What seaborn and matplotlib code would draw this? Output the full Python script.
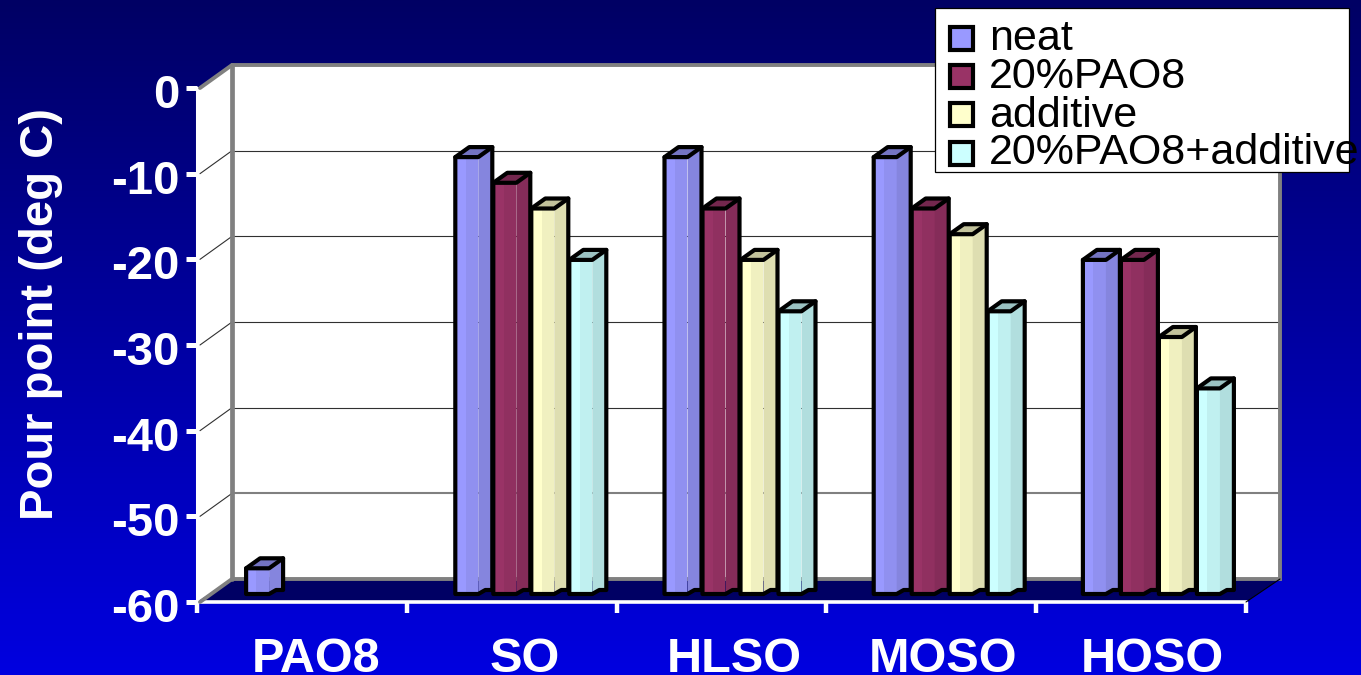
import numpy as np
import pandas as pd
import matplotlib
matplotlib.use("Agg")
import matplotlib.pyplot as plt
from matplotlib.colors import to_rgb, LinearSegmentedColormap
from matplotlib.patches import Polygon, Rectangle
from matplotlib.transforms import Affine2D
import seaborn as sns

# Pour point of each base oil, deg C
blends = ["PAO8", "SO", "HLSO", "MOSO", "HOSO"]
series = ["neat", "20%PAO8", "additive", "20%PAO8+additive"]
neat = [-57, -9, -9, -9, -21]
pao8_20 = [np.nan, -12, -15, -15, -21]
additive = [np.nan, -15, -21, -18, -30]
pao8_additive = [np.nan, -21, -27, -27, -36]
y_ticks = [0, -10, -20, -30, -40, -50, -60]
colors = ["#9999FF", "#993366", "#FFFFCC", "#CCFFFF"]

W, H = 1361, 675
FLOOR = -60

sns.set_theme(style="white")
plt.rcParams["font.family"] = ["Liberation Sans", "DejaVu Sans"]
plt.rcParams["axes.unicode_minus"] = False

fig = plt.figure(figsize=(W / 100, H / 100), dpi=100)


def axes_at(left, top, right, bottom):
    return fig.add_axes([left / W, 1 - bottom / H, (right - left) / W, (bottom - top) / H])


# Top-to-bottom blue backdrop
bg = fig.add_axes([0, 0, 1, 1], zorder=0)
bg.axis("off")
ramp = LinearSegmentedColormap.from_list("ramp", ["#000064", "#0000E0"])
bg.imshow(np.linspace(0, 1, 256)[:, None], cmap=ramp, aspect="auto", extent=[0, 1, 0, 1])

# Front plane of the 3-D box carries the ticks; walls are offset behind it
ax = axes_at(197, 88, 1246, 602)
ax.set_zorder(1)
ax.patch.set_visible(False)
ax.set_xlim(-0.5, 4.5)
ax.set_ylim(-60, 0)
px_x = 5 / 1049
px_y = 60 / 514
wall_dx = 35 * px_x
wall_dy = 23 * px_y
x0, x1 = -0.5, 4.5
x2, x3 = x0 + wall_dx, x1 + 34 * px_x
xc = x0 + 3 * px_x
grey = "#808080"

ax.add_patch(Polygon([(x2, -60 + wall_dy), (x3, -60 + wall_dy), (x3, wall_dy), (x2, wall_dy)],
                     fc="white", ec="none", clip_on=False, zorder=1))
ax.add_patch(Polygon([(x0, -60), (x2, -60 + wall_dy), (x2, wall_dy), (xc, 0), (x0, 0)],
                     fc="white", ec="none", clip_on=False, zorder=1))
ax.add_patch(Polygon([(xc, -60), (x1, -60), (x3, -60 + wall_dy), (x2, -60 + wall_dy)],
                     fc="#000064", ec="none", clip_on=False, zorder=1))

for v in y_ticks[1:-1]:
    line_col, line_w = (grey, 1.5) if v == -50 else ("#303030", 0.8)
    ax.plot([x2, x3], [v + wall_dy, v + wall_dy], color=line_col, lw=line_w, clip_on=False, zorder=2)
    ax.plot([xc, x2], [v, v + wall_dy], color="#303030", lw=0.8, clip_on=False, zorder=2)

ax.plot([xc, x2, x3, x3, x2, xc],
        [0, wall_dy, wall_dy, -60 + wall_dy, -60 + wall_dy, -60],
        color=grey, lw=2.8, clip_on=False, zorder=3, solid_joinstyle="miter")
ax.plot([x2, x2], [wall_dy, -60 + wall_dy], color=grey, lw=3.4, clip_on=False, zorder=3)
ax.plot([x1, x3], [-60, -60 + wall_dy], color="black", lw=0.8, clip_on=False, zorder=3)

for side in ["top", "right"]:
    ax.spines[side].set_visible(False)
ax.spines["bottom"].set_color("white")
ax.spines["bottom"].set_linewidth(2.6)
ax.spines["left"].set_color("white")
ax.spines["left"].set_linewidth(2.2)
ax.set_xticks(np.arange(-0.5, 5, 1))
ax.set_xticklabels([])
ax.set_yticks(y_ticks)
ax.tick_params(axis="x", colors="white", length=8, width=3.2, direction="out", bottom=True)
ax.tick_params(axis="y", colors="white", length=8, width=3.6, direction="out", left=True,
               pad=4.3, labelsize=34)
for label in ax.get_yticklabels():
    label.set_fontweight("bold")
    label.set_transform(label.get_transform() + Affine2D().translate(0, -3))
ax.set_ylabel("Pour point (deg C)", color="white", fontsize=34, fontweight="bold")
ax.yaxis.set_label_coords((63 - 197) / 1049, (602 - 314.5) / 514)

# Bars stand on a plane set partway back into the box
bar_ax = axes_at(210, 80, 1256, 594)
bar_ax.set_zorder(2)
bar_ax.patch.set_visible(False)

values = pd.DataFrame({"neat": neat, "20%PAO8": pao8_20, "additive": additive,
                       "20%PAO8+additive": pao8_additive}, index=blends)
long = (values.rename_axis("blend").reset_index()
        .melt(id_vars="blend", var_name="series", value_name="pour").dropna())
long["rise"] = long["pour"] - FLOOR

sns.barplot(data=long, x="blend", y="rise", hue="series", order=blends, hue_order=series,
            palette=colors, saturation=1, width=0.7266, gap=0.395, bottom=FLOOR,
            edgecolor="none", linewidth=0, legend=False, ax=bar_ax)
bar_ax.set_xlim(-0.5, 4.5)
bar_ax.set_ylim(-60, 0)
bar_ax.set_xlabel("")
bar_ax.set_ylabel("")
bar_ax.set_yticks([])
sns.despine(ax=bar_ax, left=True, bottom=True)
bar_ax.tick_params(axis="x", length=0, pad=31, colors="white", labelsize=35)
for label in bar_ax.get_xticklabels():
    label.set_fontweight("bold")
    label.set_transform(label.get_transform() + Affine2D().translate(1, 0))


def shade(color, k):
    return tuple(c * k for c in to_rgb(color))


# Extrude every front face into a box, left to right so neighbours overlap properly
bar_px_x = 5 / 1046
depth_x = 14 * bar_px_x
depth_y = 10 * px_y
rim = 4 * px_y
edge_w = 3.0
faces = []
for container, col in zip(bar_ax.containers, colors):
    for rect in container:
        if np.isnan(rect.get_height()) or rect.get_height() == 0:
            continue
        faces.append((rect.get_x(), rect, col))
faces.sort(key=lambda item: item[0])

for order, (left, rect, col) in enumerate(faces):
    z = 5 + order
    width = rect.get_width()
    right = left + width
    base = rect.get_y()
    top = base + rect.get_height()
    rect.set_zorder(z)
    # Second, slightly darker band on the front face
    bar_ax.add_patch(Rectangle((left + 0.45 * width, base), 0.55 * width, top - base,
                               fc=shade(col, 0.94), ec="none", zorder=z + 0.1))
    # Side and top faces
    bar_ax.add_patch(Polygon([(right, top), (right + depth_x, top + depth_y),
                              (right + depth_x, base + rim), (right + depth_x / 2, base + rim),
                              (right, base)],
                             fc=shade(col, 0.87), ec="none", zorder=z + 0.2, clip_on=False))
    bar_ax.add_patch(Polygon([(left, top), (right, top), (right + depth_x, top + depth_y),
                              (left + depth_x, top + depth_y)],
                             fc=shade(col, 0.76), ec="none", zorder=z + 0.3, clip_on=False))
    # Heavy outline: silhouette plus the front edge of the top face
    bar_ax.add_patch(Polygon([(left, base), (left, top), (left + depth_x, top + depth_y),
                              (right + depth_x, top + depth_y), (right + depth_x, base + rim),
                              (right + depth_x / 2, base + rim), (right, base)],
                             fc="none", ec="black", lw=edge_w, joinstyle="round",
                             zorder=z + 0.4, clip_on=False))
    bar_ax.plot([left, right, right + depth_x], [top, top, top + depth_y], color="black",
                lw=edge_w, solid_joinstyle="round", zorder=z + 0.5, clip_on=False)

# Key box, placed in figure pixels
key = fig.add_axes([0, 0, 1, 1], zorder=3)
key.set_xlim(0, W)
key.set_ylim(H, 0)
key.axis("off")
key.add_patch(Rectangle((935, 8), 414, 164, fc="white", ec="black", lw=0.9))
swatch_tops = [25, 63, 101, 140]
text_mids = [39, 77, 116, 153]
for name, col, sy, ty in zip(series, colors, swatch_tops, text_mids):
    key.add_patch(Rectangle((950, sy + 2), 23, 23, fc=col, ec="black", lw=3))
    key.text(989, ty, name, color="black", fontsize=31, va="center", ha="left")

fig.savefig("out.png", dpi=100)
